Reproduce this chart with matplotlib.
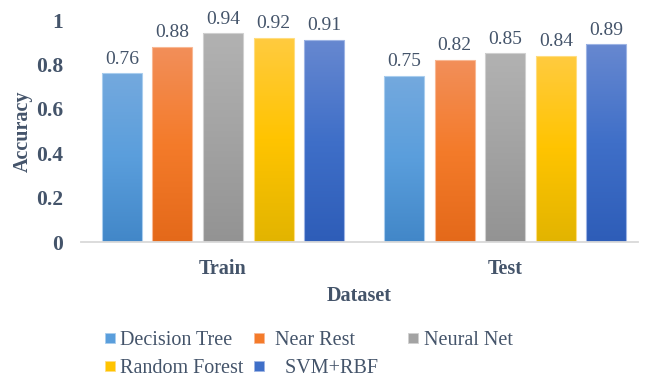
import numpy as np
import matplotlib
matplotlib.use("Agg")
import matplotlib.pyplot as plt
from matplotlib.colors import LinearSegmentedColormap
from matplotlib.lines import Line2D

# data
datasets = ["Train", "Test"]
models = ["Decision Tree", "Near Rest", "Neural Net", "Random Forest", "SVM+RBF"]
legend_names = ["Decision Tree", " Near Rest", "Neural Net", "Random Forest", "   SVM+RBF    "]
decision_tree = [0.76, 0.75]
near_rest = [0.88, 0.82]
neural_net = [0.94, 0.85]
random_forest = [0.92, 0.84]
svm_rbf = [0.91, 0.89]
series = [decision_tree, near_rest, neural_net, random_forest, svm_rbf]

# gradient stops (top, middle, bottom) per series, Excel-like
grads = [
    ["#74A9DE", "#5A9EDC", "#4287C8"],
    ["#F28F5A", "#F47B2A", "#E4691A"],
    ["#B2B2B2", "#A3A3A3", "#939393"],
    ["#FFCB40", "#FFC400", "#E2B400"],
    ["#6788D0", "#3F6FC8", "#2E5DB8"],
]
edges = ["#A9CDEE", "#F8B894", "#D0D0D0", "#FFDD80", "#9DB4E4"]
txt = "#44546A"
serif = ["Liberation Serif", "DejaVu Serif"]

plt.rcParams["font.family"] = serif

fig = plt.figure(figsize=(6.48, 3.78), dpi=100)
ax = fig.add_axes([81 / 648, 1 - 242 / 378, (638 - 81) / 648, (242 - 20) / 378])

x = np.arange(len(datasets))
pitch = 0.179
width = 0.1416
gvec = np.linspace(0, 1, 256).reshape(-1, 1)

for i, vals in enumerate(series):
    bars = ax.bar(x + (i - 2) * pitch, vals, width, color=grads[i][1],
                  edgecolor=edges[i], linewidth=0.8, zorder=3)
    cmap = LinearSegmentedColormap.from_list("g%d" % i, grads[i])
    for b, v in zip(bars, vals):
        x0, y0 = b.get_x(), b.get_y()
        im = ax.imshow(gvec, extent=[x0, x0 + b.get_width(), y0, y0 + b.get_height()],
                       origin="upper", cmap=cmap, aspect="auto", zorder=2)
        im.set_clip_path(b)
        ax.annotate("%.2f" % v, (b.get_x() + b.get_width() / 2, v),
                    xytext=(0, 4), textcoords="offset points",
                    ha="center", va="bottom", fontsize=14, color=txt,
                    family=serif, annotation_clip=False)
    for b in bars:
        b.set_facecolor("none")

ax.set_xlim(-0.503, 1.47)
ax.set_ylim(0, 1)
ax.set_yticks([0, 0.2, 0.4, 0.6, 0.8, 1])
ax.set_yticklabels(["0", "0.2", "0.4", "0.6", "0.8", "1"])
ax.set_xticks(x)
ax.set_xticklabels(datasets)
for s in ["top", "right", "left"]:
    ax.spines[s].set_visible(False)
ax.spines["bottom"].set_color("#D9D9D9")
ax.spines["bottom"].set_linewidth(1.3)
ax.spines["bottom"].set_zorder(4)
ax.tick_params(axis="y", length=0, pad=13, labelsize=15.5, labelcolor=txt)
ax.tick_params(axis="x", length=0, pad=12, labelsize=14.5, labelcolor=txt)
for lab in ax.get_xticklabels() + ax.get_yticklabels():
    lab.set_fontweight("bold")

ax.set_ylabel("Accuracy", fontsize=14.5, fontweight="bold", color=txt)
ax.yaxis.set_label_coords(-0.086, 0.5)
ax.set_xlabel("Dataset", fontsize=14.5, fontweight="bold", color=txt, labelpad=5)

handles = [Line2D([], [], marker="s", linestyle="none", markersize=7,
                  markerfacecolor=grads[i][1], markeredgecolor=edges[i],
                  markeredgewidth=0.6) for i in range(len(models))]
order = [0, 3, 1, 4, 2]
fig.legend([handles[k] for k in order], [legend_names[k] for k in order],
           loc="upper left", bbox_to_anchor=(104 / 648, 1 - 331 / 378),
           ncol=3, frameon=False, prop={"family": serif, "size": 14.5},
           labelcolor=txt, handlelength=0.55, handletextpad=0.25,
           columnspacing=0.5, labelspacing=0.45, borderpad=0, borderaxespad=0)

fig.savefig("out.png", dpi=100)
